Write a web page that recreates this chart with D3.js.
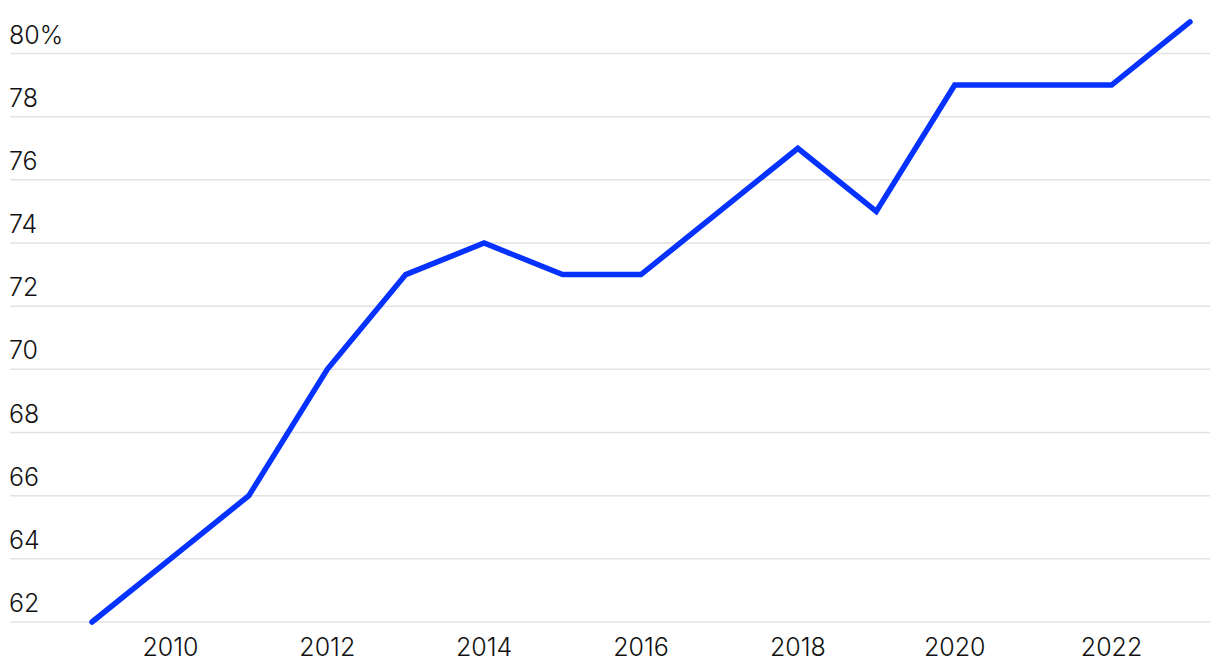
<!DOCTYPE html>
<html>
<head>
<meta charset="utf-8">
<script src="https://cdn.jsdelivr.net/npm/d3@7"></script>
<style>
  body { margin: 0; background: #fff; }
  text { font-family: Inter, "Noto Sans", sans-serif; font-weight: 300; fill: #111; }
</style>
</head>
<body>
<div class="graph"></div>
<script>
const years = [2009, 2010, 2011, 2012, 2013, 2014, 2015, 2016, 2017, 2018, 2019, 2020, 2021, 2022, 2023];
const shares = [62, 64, 66, 70, 73, 74, 73, 73, 75, 77, 75, 79, 79, 79, 81];
const yTicks = [62, 64, 66, 68, 70, 72, 74, 76, 78, 80];
const xTicks = [2010, 2012, 2014, 2016, 2018, 2020, 2022];

const width = 1220;
const height = 670;

const svg = d3.select(".graph")
  .append("svg")
  .attr("width", width)
  .attr("height", height);

const x = d3.scaleLinear().domain([2009, 2023]).range([92, 1190]);
const y = d3.scaleLinear().domain([62, 80]).range([622, 53.5]);

// gridlines
svg.append("g")
  .selectAll("line")
  .data(yTicks)
  .enter()
  .append("line")
  .attr("x1", 10)
  .attr("x2", 1210)
  .attr("y1", d => y(d))
  .attr("y2", d => y(d))
  .attr("stroke", "#e2e2e2")
  .attr("stroke-width", 1.5);

// y labels sit above the lines
svg.append("g")
  .selectAll("text")
  .data(yTicks)
  .enter()
  .append("text")
  .attr("x", 9)
  .attr("y", d => y(d) - 10)
  .attr("font-size", 25)
  .text(d => d === 80 ? "80%" : d);

// x axis labels
svg.append("g")
  .selectAll("text")
  .data(xTicks)
  .enter()
  .append("text")
  .attr("x", d => x(d))
  .attr("y", 656)
  .attr("text-anchor", "middle")
  .attr("font-size", 25)
  .text(d => d);

const line = d3.line()
  .x((d, i) => x(years[i]))
  .y(d => y(d));

svg.append("path")
  .datum(shares)
  .attr("d", line)
  .attr("fill", "none")
  .attr("stroke", "#0532ff")
  .attr("stroke-width", 5.5)
  .attr("stroke-linecap", "round")
  .attr("stroke-linejoin", "miter");
</script>
</body>
</html>
